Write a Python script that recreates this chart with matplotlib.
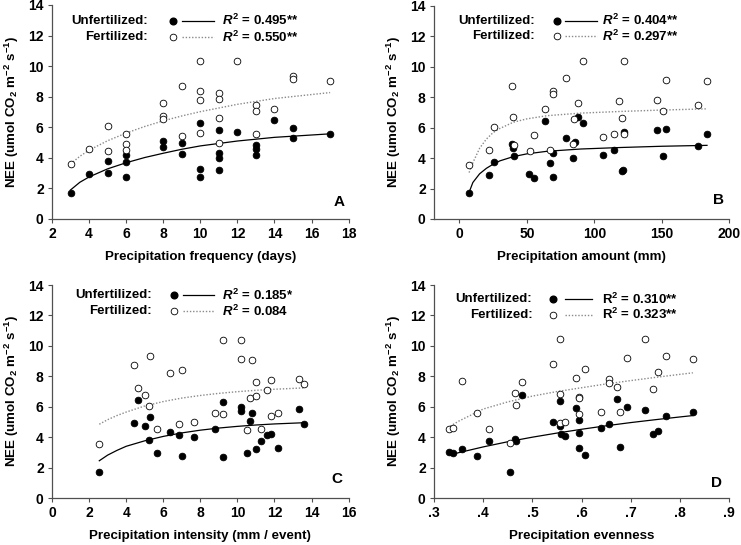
import matplotlib
matplotlib.use("Agg")
import matplotlib.pyplot as plt

plt.rcParams['font.family'] = 'Liberation Sans'
plt.rcParams['font.weight'] = 'bold'
plt.rcParams['axes.labelweight'] = 'bold'
plt.rcParams['mathtext.fontset'] = 'custom'
plt.rcParams['mathtext.rm'] = 'Liberation Sans:bold'
plt.rcParams['mathtext.it'] = 'Liberation Sans:bold:italic'
plt.rcParams['mathtext.bf'] = 'Liberation Sans:bold'

# ---- A: precipitation frequency ----
freq_unf_x = [3, 4, 5, 5, 6, 6, 6, 8, 8, 9, 9, 10, 10, 10, 11, 11, 11, 11, 12, 13, 13, 13, 14, 15, 15, 17]
freq_unf_y = [1.68, 2.94, 3.77, 2.99, 4.16, 3.73, 2.73, 5.08, 4.71, 4.95, 4.23, 6.28, 3.27, 2.75,
              5.84, 4.34, 4.01, 3.21, 5.71, 4.86, 4.56, 4.16, 6.45, 5.93, 5.30, 5.58]
freq_fer_x = [3, 4, 5, 5, 6, 6, 6, 8, 8, 8, 9, 9, 10, 10, 10, 10, 11, 11, 11, 11, 12, 13, 13, 13, 14, 15, 15, 17]
freq_fer_y = [3.58, 4.56, 6.06, 4.47, 5.54, 4.88, 4.54, 7.61, 6.76, 6.54, 8.70, 5.41, 10.36, 8.40, 7.78, 5.60,
              8.24, 7.83, 6.63, 4.97, 10.36, 7.48, 7.09, 5.58, 7.22, 9.33, 9.18, 9.05]
freq_fit_x = [3, 3.5, 4, 5, 6, 7, 8, 9, 10, 12, 14, 17]
freq_fit_unf = [1.9, 2.4, 2.75, 3.28, 3.68, 4.02, 4.3, 4.56, 4.78, 5.1, 5.34, 5.57]
freq_fit_fer = [3.6, 4.1, 4.5, 5.12, 5.62, 6.05, 6.42, 6.74, 7.02, 7.5, 7.88, 8.27]

# ---- B: precipitation amount ----
amt_unf_x = [7.2, 22.3, 25.7, 40.8, 39.3, 39.6, 51.9, 55.2, 63.8, 67.3, 69.7, 69.6, 78.9, 84.1, 85.6, 88,
             91.5, 106.4, 114.3, 120.5, 121.5, 122.2, 146.7, 153.3, 150.9, 176.8, 183.5]
amt_unf_y = [1.69, 2.91, 3.77, 4.14, 4.9, 4.65, 2.98, 2.72, 6.44, 3.70, 4.32, 2.73, 5.30, 3.99, 5.08, 6.73,
             6.29, 4.23, 4.56, 3.15, 3.22, 5.74, 5.83, 5.94, 4.14, 4.82, 5.57]
amt_fer_x = [7.2, 22.3, 25.7, 39.3, 39.6, 40.6, 52.2, 55.2, 63.8, 67.3, 69.5, 69.5, 78.9, 84.1, 85.1, 88,
             91.5, 106.6, 114.3, 118.2, 120.7, 121.7, 122, 146.7, 150.9, 153.3, 176.8, 183.5]
amt_fer_y = [3.57, 4.56, 6.05, 8.72, 6.73, 4.89, 4.47, 5.54, 7.23, 4.56, 8.42, 8.24, 9.29, 4.95, 6.57, 7.6,
             10.39, 5.41, 5.59, 7.78, 6.62, 5.59, 10.39, 7.84, 7.08, 9.14, 7.47, 9.05]
amt_fit_x = [7.2, 10, 15, 20, 25, 30, 40, 50, 65, 90, 120, 150, 183.5]
amt_fit_unf = [1.75, 2.4, 2.97, 3.33, 3.6, 3.82, 4.1, 4.28, 4.45, 4.6, 4.7, 4.78, 4.84]
amt_fit_fer = [3.05, 3.7, 4.65, 5.25, 5.68, 5.95, 6.36, 6.58, 6.79, 6.96, 7.07, 7.16, 7.24]

# ---- C: precipitation intensity ----
int_unf_x = [2.55, 4.42, 4.62, 5.0, 5.3, 5.25, 5.68, 6.34, 6.87, 7.01, 7.68, 8.81, 9.22, 9.24,
             10.21, 10.21, 10.77, 10.68, 10.52, 10.98, 11.25, 11.61, 11.83, 12.17, 13.34, 13.59]
int_unf_y = [1.69, 4.95, 6.44, 4.73, 5.33, 3.79, 2.94, 4.34, 4.16, 2.76, 4.03, 4.56, 6.31, 2.72,
             5.96, 5.74, 5.59, 5.08, 2.98, 3.2, 3.72, 4.16, 4.23, 3.29, 5.85, 4.84]
int_fer_x = [2.55, 4.42, 4.62, 5.01, 5.25, 5.3, 5.68, 6.34, 6.87, 7.01, 7.68, 8.81, 9.24, 9.22,
             10.19, 10.21, 10.79, 10.68, 10.98, 11.0, 11.25, 11.61, 11.83, 11.83, 12.17, 10.53, 13.34, 13.59]
int_fer_y = [3.57, 8.74, 7.25, 6.75, 6.07, 9.34, 4.56, 8.24, 4.89, 8.39, 4.97, 5.59, 5.54, 10.39,
             10.39, 9.16, 9.07, 6.57, 6.71, 7.63, 4.54, 7.1, 7.78, 5.41, 5.61, 4.47, 7.84, 7.5]
int_fit_x = [2.55, 3, 3.5, 4, 5, 6, 7, 8, 9, 10, 11, 12, 13.6]
int_fit_unf = [2.45, 2.82, 3.13, 3.4, 3.76, 4.05, 4.28, 4.46, 4.6, 4.71, 4.8, 4.87, 4.95]
int_fit_fer = [4.85, 5.15, 5.42, 5.65, 6.05, 6.34, 6.57, 6.74, 6.88, 6.99, 7.08, 7.15, 7.24]

# ---- D: precipitation evenness ----
even_unf_x = [0.3305, 0.338, 0.356, 0.387, 0.412, 0.454, 0.465, 0.467, 0.479, 0.542, 0.555, 0.557, 0.559,
              0.566, 0.588, 0.594, 0.594, 0.594, 0.606, 0.639, 0.656, 0.672, 0.677, 0.692, 0.729, 0.745,
              0.756, 0.772, 0.826]
even_unf_y = [3.02, 2.96, 3.2, 2.76, 3.77, 1.73, 3.88, 3.75, 6.77, 5.0, 6.36, 4.73, 4.21,
              4.08, 5.9, 5.13, 4.25, 3.27, 2.8, 4.62, 4.89, 6.51, 3.33, 6.0, 5.76, 4.21,
              4.38, 5.37, 5.63]
even_fer_x = [0.3305, 0.338, 0.356, 0.387, 0.412, 0.454, 0.465, 0.467, 0.479, 0.542, 0.555, 0.557, 0.557,
              0.566, 0.588, 0.594, 0.595, 0.594, 0.606, 0.639, 0.656, 0.656, 0.672, 0.677, 0.692, 0.729,
              0.745, 0.756, 0.772, 0.826]
even_fer_y = [4.51, 4.62, 7.71, 5.61, 4.56, 3.64, 6.9, 6.11, 7.65, 8.79, 10.45, 6.82, 4.93,
              5.02, 7.91, 6.64, 6.55, 5.5, 8.46, 5.65, 7.84, 7.54, 7.3, 5.65, 9.2, 10.43,
              7.15, 8.3, 9.36, 9.12]
even_fit_x = [0.333, 0.35, 0.4, 0.45, 0.5, 0.55, 0.6, 0.65, 0.7, 0.75, 0.8, 0.826]
even_fit_unf = [2.83, 2.98, 3.36, 3.7, 4.0, 4.27, 4.52, 4.75, 4.96, 5.15, 5.33, 5.42]
even_fit_fer = [4.72, 5.05, 5.85, 6.32, 6.7, 7.0, 7.25, 7.5, 7.72, 7.93, 8.13, 8.23]

y_ticks = [0, 2, 4, 6, 8, 10, 12, 14]
freq_ticks = [2, 4, 6, 8, 10, 12, 14, 16, 18]
amt_ticks = [0, 50, 100, 150, 200]
int_ticks = [0, 2, 4, 6, 8, 10, 12, 14, 16]
even_ticks = [0.3, 0.4, 0.5, 0.6, 0.7, 0.8, 0.9]
even_tick_labels = ['.3', '.4', '.5', '.6', '.7', '.8', '.9']

DOT = '#8a8a8a'
AXC = '#505050'


def panel(ax, xu, yu, xf, yf, fx, fu, ff, xlim, xticks, xlabel, r2u, r2f, letter,
          leg_y, leg_x, letter_xy):
    ax.plot(fx, fu, color='black', lw=0.9, zorder=2)
    ax.plot(fx, ff, color=DOT, lw=1.0, ls=(0, (1, 1.3)), zorder=2)
    ax.plot(xu, yu, 'o', ms=4.8, mfc='black', mec='black', mew=0.6, ls='none', zorder=3)
    ax.plot(xf, yf, 'o', ms=4.8, mfc='white', mec='black', mew=0.6, ls='none', zorder=3)

    ax.set_xlim(xlim)
    ax.set_ylim(0, 14)
    ax.set_xticks(xticks)
    ax.set_yticks(y_ticks)
    for s in ['top', 'right']:
        ax.spines[s].set_visible(False)
    for s in ['left', 'bottom']:
        ax.spines[s].set_color(AXC)
        ax.spines[s].set_linewidth(0.9)
    ax.tick_params(direction='out', length=3, width=0.8, color=AXC, labelsize=10, pad=3)
    ax.set_xlabel(xlabel, fontsize=9.6, labelpad=7)
    ax.set_ylabel('NEE (umol CO$_2$ m$^{-2}$ s$^{-1}$)', fontsize=9.6, labelpad=5)

    # legend built by hand
    lab_x, mk_x, ln0, ln1, r2_x = leg_x
    tr = ax.transAxes
    ax.text(lab_x, leg_y[0], 'Unfertilized:', transform=tr, ha='right', va='center', fontsize=9.5)
    ax.text(lab_x, leg_y[1], 'Fertilized:', transform=tr, ha='right', va='center', fontsize=9.5)
    ax.plot([mk_x], [leg_y[0]], 'o', ms=4.8, mfc='black', mec='black', transform=tr, clip_on=False)
    ax.plot([mk_x], [leg_y[1]], 'o', ms=4.8, mfc='white', mec='black', mew=0.6, transform=tr, clip_on=False)
    ax.plot([ln0, ln1], [leg_y[0], leg_y[0]], color='black', lw=0.9, transform=tr, clip_on=False)
    ax.plot([ln0, ln1], [leg_y[1], leg_y[1]], color=DOT, lw=1.0, ls=(0, (1, 1.3)), transform=tr, clip_on=False)
    ax.text(r2_x, leg_y[0], r2u, transform=tr, ha='left', va='center', fontsize=9.5)
    ax.text(r2_x, leg_y[1], r2f, transform=tr, ha='left', va='center', fontsize=9.5)

    ax.text(letter_xy[0], letter_xy[1], letter, transform=tr, ha='right', va='center', fontsize=11)


fig = plt.figure(figsize=(7.41, 5.45), dpi=100)
axA = fig.add_axes([0.0702, 0.5982, 0.4003, 0.3927])
axB = fig.add_axes([0.5857, 0.5982, 0.3985, 0.3908])
axC = fig.add_axes([0.0702, 0.0862, 0.4003, 0.3908])
axD = fig.add_axes([0.5857, 0.0862, 0.3985, 0.3908])

panel(axA, freq_unf_x, freq_unf_y, freq_fer_x, freq_fer_y, freq_fit_x, freq_fit_unf, freq_fit_fer,
      (2, 18), freq_ticks, 'Precipitation frequency (days)',
      '$R^2$ = 0.495**', '$R^2$ = 0.550**', 'A',
      (0.927, 0.849), (0.324, 0.407, 0.438, 0.545, 0.573), (0.985, 0.08))
panel(axB, amt_unf_x, amt_unf_y, amt_fer_x, amt_fer_y, amt_fit_x, amt_fit_unf, amt_fit_fer,
      (-18.8, 200), amt_ticks, 'Precipitation amount (mm)',
      '$R^2$ = 0.404**', '$R^2$ = 0.297**', 'B',
      (0.931, 0.859), (0.342, 0.418, 0.444, 0.551, 0.57), (0.982, 0.089))
panel(axC, int_unf_x, int_unf_y, int_fer_x, int_fer_y, int_fit_x, int_fit_unf, int_fit_fer,
      (0, 16), int_ticks, 'Precipitation intensity (mm / event)',
      '$R^2$ = 0.185*', '$R^2$ = 0.084', 'C',
      (0.952, 0.877), (0.337, 0.41, 0.442, 0.545, 0.573), (0.978, 0.09))
panel(axD, even_unf_x, even_unf_y, even_fer_x, even_fer_y, even_fit_x, even_fit_unf, even_fit_fer,
      (0.3, 0.9), even_ticks, 'Precipitation evenness',
      'R$^2$ = 0.310**', 'R$^2$ = 0.323**', 'D',
      (0.933, 0.861), (0.333, 0.404, 0.444, 0.536, 0.57), (0.974, 0.072))
axD.set_xticklabels(even_tick_labels)

fig.savefig('out.png', dpi=100)
